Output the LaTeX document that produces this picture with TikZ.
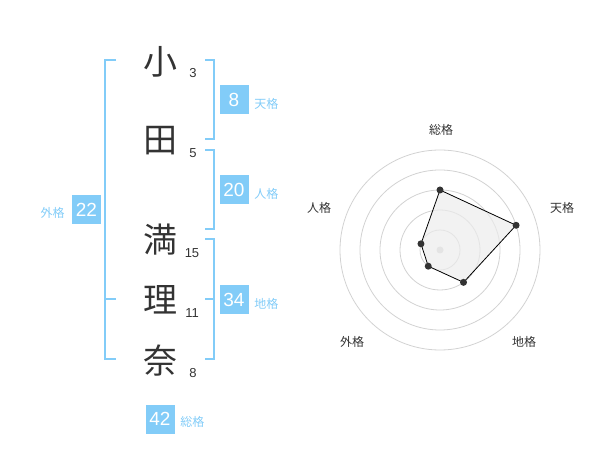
\documentclass[tikz,border=0pt]{standalone}
\usepackage{fontspec}
\usetikzlibrary{positioning}
\setmainfont{Liberation Sans}
\newfontfamily\jafont{Noto Sans CJK JP}
\definecolor{kakublue}{RGB}{130, 204, 248}
\definecolor{inkgray}{RGB}{51, 51, 51}
\definecolor{ringgray}{RGB}{210, 210, 210}

\begin{document}
\begin{tikzpicture}[x=1pt,y=-1pt,
    kanji/.style={inner sep=0pt,inkgray,font=\jafont\fontsize{34}{34}\selectfont},
    strokes/.style={inner sep=0pt,inkgray,font=\fontsize{13}{13}\selectfont},
    kakubox/.style={fill=kakublue,text=white,minimum size=29pt,inner sep=0pt,font=\fontsize{19}{19}\selectfont},
    kakulabel/.style={inner sep=0pt,kakublue,font=\jafont\fontsize{12}{12}\selectfont},
    bracket/.style={kakublue,line width=2pt},
    axislabel/.style={inner sep=0pt,inkgray,font=\jafont\fontsize{12}{12}\selectfont},
    ring/.style={ringgray,line width=0.8pt},
    vertex/.style={circle,fill=inkgray,inner sep=0pt,minimum size=7pt}]
        \useasboundingbox (0,0) rectangle (600,470);
        %\draw[step=10,gray,very thin] (0,0) grid (600,470);
        % name
        \node[kanji] (K1) at (160,62) {小};
        \node[kanji] (K2) at (160,141) {田};
        \node[kanji] (K3) at (160,240) {満};
        \node[kanji] (K4) at (160,300) {理};
        \node[kanji] (K5) at (160,361) {奈};
        \node[strokes] (S1) at (193,73) {3};
        \node[strokes] (S2) at (193,153) {5};
        \node[strokes] (S3) at (192,253) {15};
        \node[strokes] (S4) at (192,313) {11};
        \node[strokes] (S5) at (193,373) {8};
        % brackets
        \draw[bracket] (116,60) -- (105,60) -- (105,359) -- (116,359);
        \draw[bracket] (105,299) -- (116,299);
        \draw[bracket] (205,60) -- (214,60) -- (214,139) -- (205,139);
        \draw[bracket] (205,150) -- (214,150) -- (214,229) -- (205,229);
        \draw[bracket] (205,239) -- (214,239) -- (214,359) -- (205,359);
        \draw[bracket] (205,299) -- (214,299);
        % kaku boxes
        \node[kakubox] (TEN) at (234,100) {8};
        \node[kakulabel,right=5.5pt of TEN,yshift=-4pt] (TENL) {天格};
        \node[kakubox] (JIN) at (234,190) {20};
        \node[kakulabel,right=5.5pt of JIN,yshift=-4pt] (JINL) {人格};
        \node[kakubox] (CHI) at (234,300) {34};
        \node[kakulabel,right=5.5pt of CHI,yshift=-4pt] (CHIL) {地格};
        \node[kakubox] (GAI) at (86.5,210) {22};
        \node[kakulabel,left=7pt of GAI,yshift=-3pt] (GAIL) {外格};
        \node[kakubox] (SOU) at (160,419) {42};
        \node[kakulabel,right=5.5pt of SOU,yshift=-3pt] (SOUL) {総格};
        % radar
        \begin{scope}[shift={(440,250)}]
            \foreach \r in {20,40,60,80,100}
                \draw[ring] (0,0) circle (\r);
            \fill[ringgray] (0,0) circle (3.5);
            \coordinate (PS) at (-90:60);
            \coordinate (PT) at (-18:80);
            \coordinate (PC) at (54:40);
            \coordinate (PG) at (126:20);
            \coordinate (PJ) at (198:20);
            \filldraw[fill=gray!15,fill opacity=0.7,draw=black,line width=0.8pt]
                (PS) -- (PT) -- (PC) -- (PG) -- (PJ) -- cycle;
            \foreach \p in {PS,PT,PC,PG,PJ}
                \node[vertex] at (\p) {};
        \end{scope}
        \node[axislabel] (AS) at (441,130) {総格};
        \node[axislabel] (AT) at (562,208) {天格};
        \node[axislabel] (AC) at (524,342) {地格};
        \node[axislabel] (AG) at (352,342) {外格};
        \node[axislabel] (AJ) at (319,208) {人格};
      \end{tikzpicture}
\end{document}
